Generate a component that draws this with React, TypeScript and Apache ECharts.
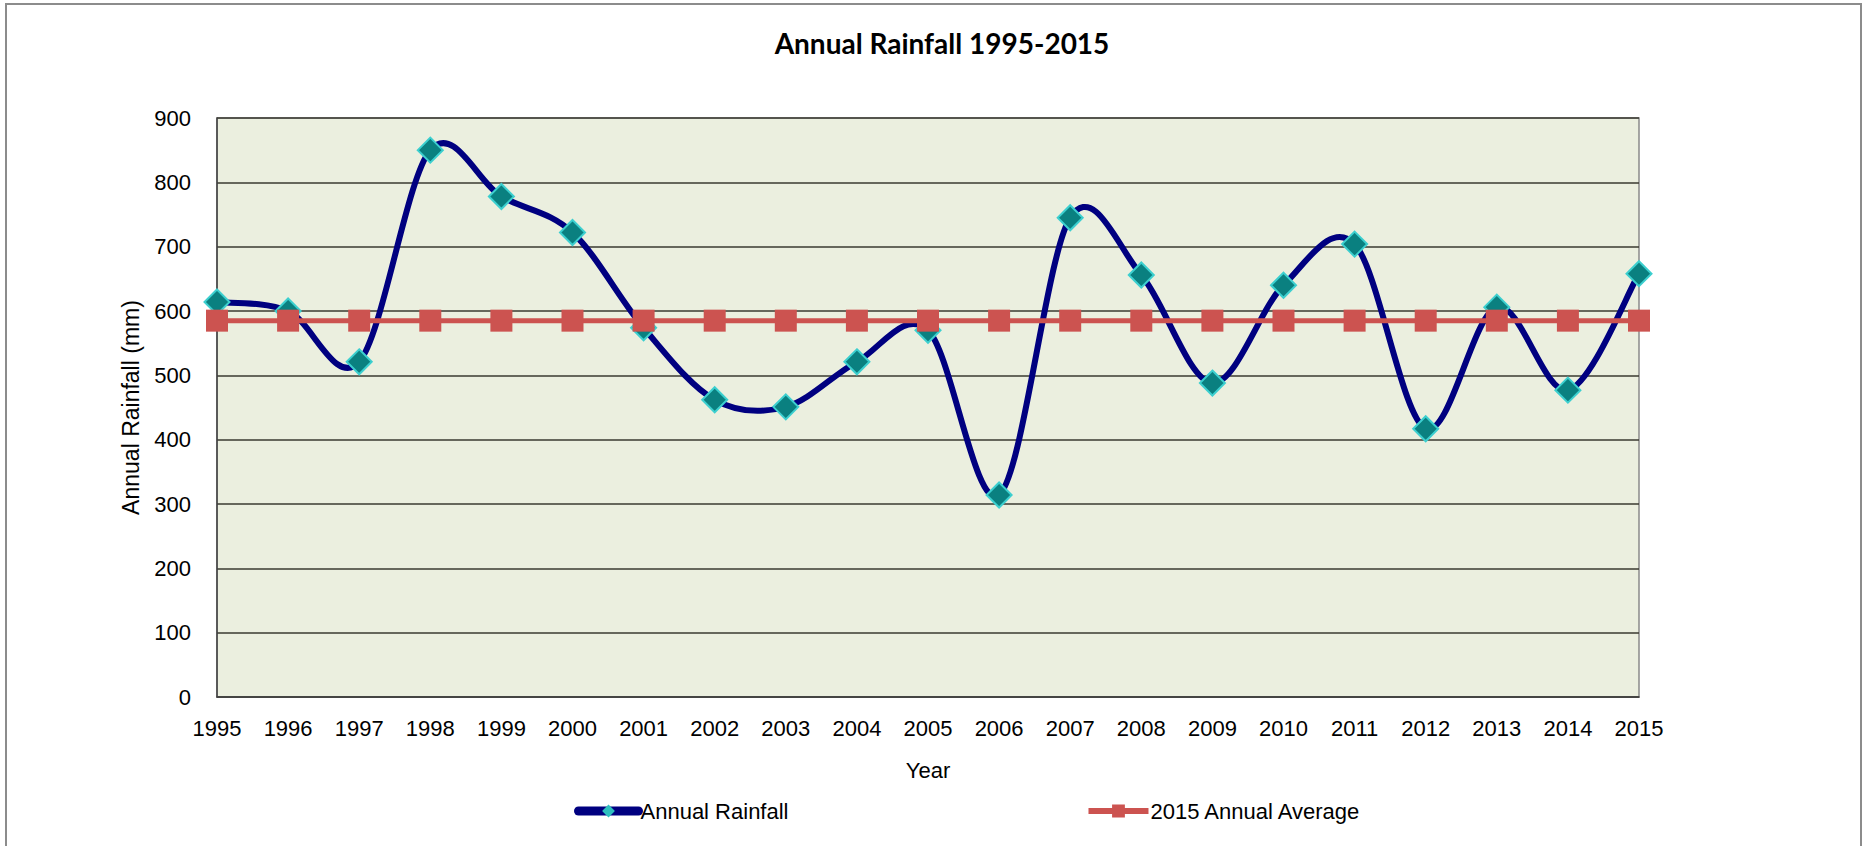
import React, { useEffect, useRef } from "react";
import * as echarts from "echarts";

const years = [
  "1995", "1996", "1997", "1998", "1999", "2000", "2001", "2002", "2003", "2004", "2005",
  "2006", "2007", "2008", "2009", "2010", "2011", "2012", "2013", "2014", "2015",
];

const annualRainfall = [
  614, 600, 521, 850, 778, 722, 574, 462, 451, 521, 570,
  314, 745, 656, 488, 640, 704, 417, 606, 477, 658,
];

const annualAverage2015 = [
  585, 585, 585, 585, 585, 585, 585, 585, 585, 585, 585,
  585, 585, 585, 585, 585, 585, 585, 585, 585, 585,
];

const yTicks = { min: 0, max: 900, interval: 100 };

export default function App() {
  const ref = useRef<HTMLDivElement>(null);

  useEffect(() => {
    if (!ref.current) return;
    const chart = echarts.init(ref.current, undefined, { renderer: "svg" });
    const labelFont = "'Liberation Sans', Arial, sans-serif";
    const rainfallPairs = years.map((y, i) => [y, annualRainfall[i]]);

    // Excel-like smoothed line (Catmull-Rom through the data points, via the axes' coord mapping)
    const renderSmooth = (params: any, api: any) => {
      const n = params.dataInsideLength;
      const i = params.dataIndexInside;
      if (i >= n - 1) return null;
      const pt = (j: number) => {
        const k = Math.max(0, Math.min(n - 1, j));
        return api.coord([api.value(0, k), api.value(1, k)]);
      };
      const p0 = pt(i - 1);
      const p1 = pt(i);
      const p2 = pt(i + 1);
      const p3 = pt(i + 2);
      const t = 1 / 6;
      return {
        type: "bezierCurve",
        shape: {
          x1: p1[0],
          y1: p1[1],
          x2: p2[0],
          y2: p2[1],
          cpx1: p1[0] + (p2[0] - p0[0]) * t,
          cpy1: p1[1] + (p2[1] - p0[1]) * t,
          cpx2: p2[0] - (p3[0] - p1[0]) * t,
          cpy2: p2[1] - (p3[1] - p1[1]) * t,
        },
        style: { stroke: "#000080", lineWidth: 6, fill: "none", lineCap: "round" },
        silent: true,
      };
    };

    chart.setOption({
      animation: false,
      backgroundColor: "#ffffff",
      graphic: [
        {
          type: "rect",
          shape: { x: 6, y: 4, width: 1855, height: 870 },
          style: { fill: "none", stroke: "#8c8c8c", lineWidth: 2 },
          silent: true,
        },
      ],
      title: {
        text: "Annual Rainfall 1995-2015",
        left: 937,
        top: 24,
        textAlign: "center",
        textStyle: {
          fontFamily: "Lato, 'Open Sans', sans-serif",
          fontWeight: "bold",
          fontSize: 28,
          color: "#000000",
        },
      },
      grid: {
        left: 217,
        top: 118,
        right: 228,
        bottom: 149,
        show: true,
        backgroundColor: "#EBEFDF",
        borderColor: "#8a8a8a",
        borderWidth: 1.5,
      },
      legend: {
        left: 569,
        top: 795,
        itemGap: 297,
        itemWidth: 60,
        itemHeight: 16,
        textStyle: { fontFamily: labelFont, fontSize: 22, color: "#000000", padding: [0, 0, 0, -3] },
        data: [
          {
            name: "Annual Rainfall",
            lineStyle: { width: 9, color: "#000080", opacity: 1, cap: "round" },
            itemStyle: { color: "#2FBFBF", borderWidth: 0 },
          },
          {
            name: "2015 Annual Average",
            lineStyle: { width: 6, color: "#CC5350" },
          },
        ],
      },
      xAxis: {
        type: "category",
        data: years,
        boundaryGap: false,
        name: "Year",
        nameLocation: "middle",
        nameGap: 62,
        nameTextStyle: { fontFamily: labelFont, fontSize: 22, color: "#000000" },
        axisLine: { show: true, lineStyle: { color: "#404040", width: 1.5 } },
        axisTick: { show: false },
        axisLabel: { margin: 20, fontFamily: labelFont, fontSize: 22, color: "#000000", interval: 0 },
        splitLine: { show: false },
      },
      yAxis: {
        type: "value",
        min: yTicks.min,
        max: yTicks.max,
        interval: yTicks.interval,
        name: "Annual Rainfall (mm)",
        nameLocation: "middle",
        nameGap: 75,
        nameTextStyle: { fontFamily: labelFont, fontSize: 23, color: "#000000" },
        axisLine: { show: true, lineStyle: { color: "#404040", width: 1.5 } },
        axisTick: { show: false },
        axisLabel: { margin: 26, fontFamily: labelFont, fontSize: 22, color: "#000000" },
        splitLine: { show: true, lineStyle: { color: "#3a3a30", width: 1.5 } },
      },
      series: [
        {
          name: "Annual Rainfall curve",
          type: "custom",
          data: rainfallPairs,
          renderItem: renderSmooth,
          z: 1,
          silent: true,
        },
        {
          name: "Annual Rainfall",
          type: "line",
          data: annualRainfall,
          lineStyle: { color: "#000080", width: 6, opacity: 0 },
          symbol: "diamond",
          symbolSize: 25,
          itemStyle: { color: "#0A8080", borderColor: "#3CCFCF", borderWidth: 2 },
          z: 2,
        },
        {
          name: "2015 Annual Average",
          type: "line",
          data: annualAverage2015,
          lineStyle: { color: "#CC5350", width: 5 },
          symbol: "rect",
          symbolSize: 22,
          itemStyle: { color: "#CC5350", borderWidth: 0 },
          z: 3,
        },
      ],
    });
    return () => chart.dispose();
  }, []);

  return (
    <div
      ref={ref}
      style={{ position: "fixed", left: 0, top: 0, width: 1867, height: 846 }}
    />
  );
}
